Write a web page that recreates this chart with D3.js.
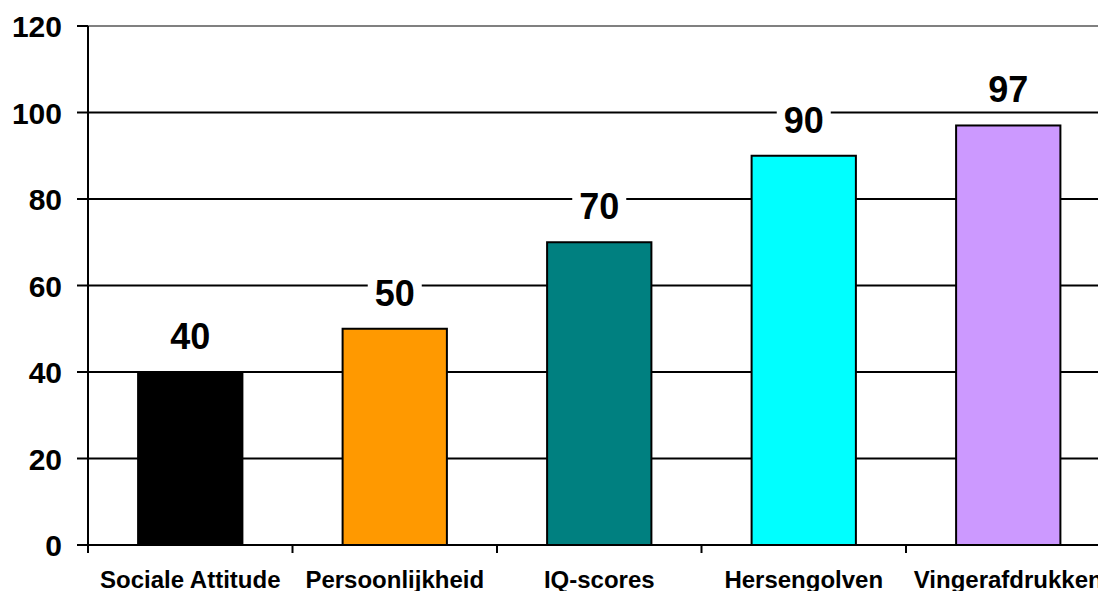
<!DOCTYPE html>
<html>
<head>
<meta charset="utf-8">
<script src="https://cdn.jsdelivr.net/npm/d3@7"></script>
<style>
  body { margin: 0; background: #fff; overflow: hidden; }
  text { font-family: "Liberation Sans", Arial, sans-serif; font-weight: bold; }
</style>
</head>
<body>
<svg id="chart"></svg>
<script>
// Chart data
const categories = ["Sociale Attitude", "Persoonlijkheid", "IQ-scores", "Hersengolven", "Vingerafdrukken"];
const values = [40, 50, 70, 90, 97];
const barColors = ["#000000", "#ff9900", "#008080", "#00ffff", "#cc99ff"];
const yTicks = [0, 20, 40, 60, 80, 100, 120];

const width = 1098, height = 591;

const svg = d3.select("#chart")
    .attr("width", width)
    .attr("height", height);

// Scales
const x = d3.scaleBand()
    .domain(categories)
    .range([88, 88 + 5 * 204.5])
    .paddingInner(0.49)
    .paddingOuter(0.245);

const y = d3.scaleLinear()
    .domain([0, 120])
    .range([545, 26]);

// Gridlines
svg.selectAll(".grid")
    .data(yTicks.filter(d => d > 0))
    .enter().append("line")
    .attr("x1", 88)
    .attr("x2", width)
    .attr("y1", d => y(d))
    .attr("y2", d => y(d))
    .attr("stroke", d => d === 120 ? "#808080" : "#000")
    .attr("stroke-width", 2);

// Bars
svg.selectAll(".bar")
    .data(values)
    .enter().append("rect")
    .attr("x", (d, i) => x(categories[i]))
    .attr("y", d => y(d))
    .attr("width", x.bandwidth())
    .attr("height", d => y(0) - y(d))
    .attr("fill", (d, i) => barColors[i])
    .attr("stroke", "#000")
    .attr("stroke-width", 2);

// X axis line + ticks
svg.append("line")
    .attr("x1", 88).attr("x2", width)
    .attr("y1", y(0)).attr("y2", y(0))
    .attr("stroke", "#000").attr("stroke-width", 2);

const step = x.step();
svg.selectAll(".xtick")
    .data(d3.range(categories.length + 1))
    .enter().append("line")
    .attr("x1", i => 88 + i * 204.5)
    .attr("x2", i => 88 + i * 204.5)
    .attr("y1", y(0))
    .attr("y2", y(0) + 8)
    .attr("stroke", "#000")
    .attr("stroke-width", 2);

// Category labels
svg.selectAll(".xlabel")
    .data(categories)
    .enter().append("text")
    .attr("x", d => x(d) + x.bandwidth() / 2)
    .attr("y", 588)
    .attr("text-anchor", "middle")
    .attr("font-size", 24)
    .text(d => d);

// Y axis
svg.append("line")
    .attr("x1", 88).attr("x2", 88)
    .attr("y1", y(120)).attr("y2", y(0) + 8)
    .attr("stroke", "#000").attr("stroke-width", 2);

svg.selectAll(".ytick")
    .data(yTicks)
    .enter().append("line")
    .attr("x1", 77).attr("x2", 88)
    .attr("y1", d => y(d)).attr("y2", d => y(d))
    .attr("stroke", "#000").attr("stroke-width", 2);

svg.selectAll(".ylabel")
    .data(yTicks)
    .enter().append("text")
    .attr("x", 62)
    .attr("y", d => y(d) + 11)
    .attr("text-anchor", "end")
    .attr("font-size", 30)
    .text(d => d);

// Value labels with white background
const labels = svg.selectAll(".vlabel")
    .data(values)
    .enter().append("g")
    .attr("transform", (d, i) => `translate(${x(categories[i]) + x.bandwidth() / 2},${y(d) - 36})`);

labels.append("rect")
    .attr("x", -27).attr("y", -20)
    .attr("width", 54).attr("height", 40)
    .attr("fill", "#fff");

labels.append("text")
    .attr("text-anchor", "middle")
    .attr("y", 13)
    .attr("font-size", 36)
    .text(d => d);
</script>
</body>
</html>
